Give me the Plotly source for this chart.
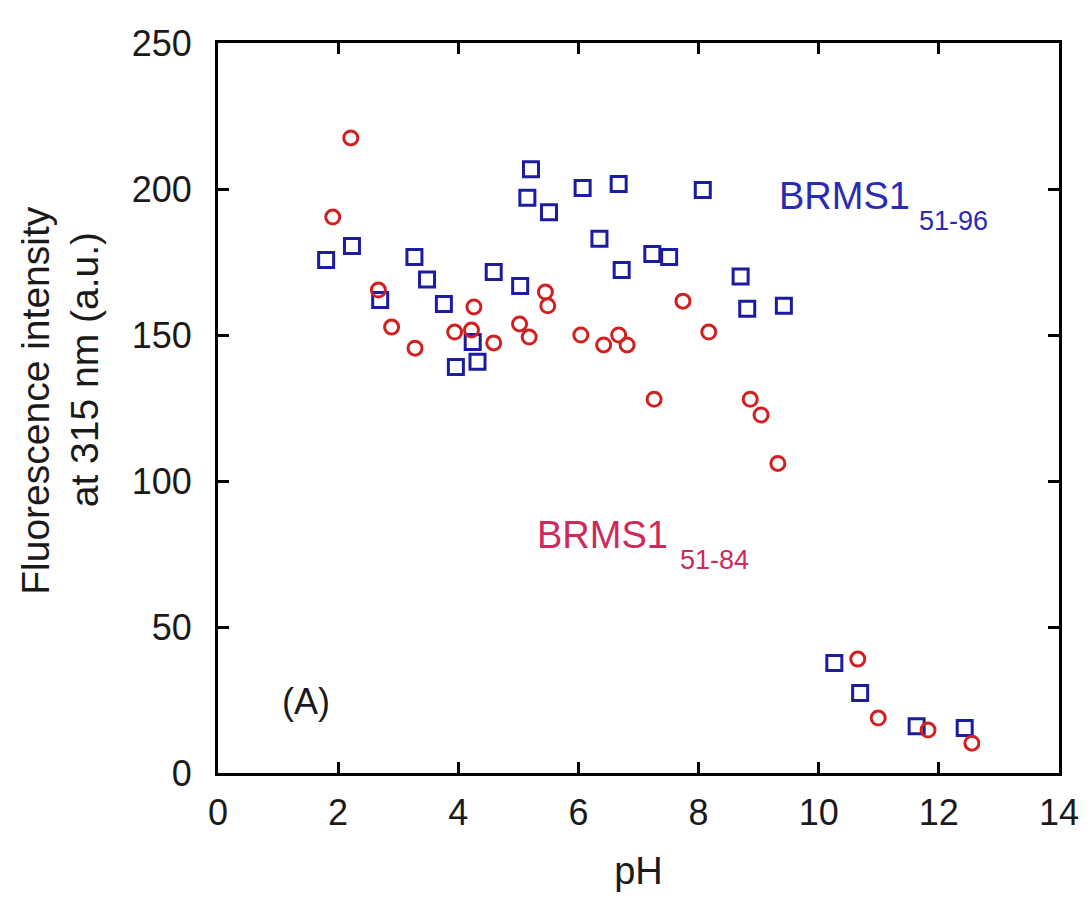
import plotly.graph_objects as go

# BRMS1 51-98 (blue squares)
ph_9698 = [1.80, 2.23, 2.70, 3.27, 3.48, 3.76, 3.96, 4.24, 4.32, 4.59, 5.03, 5.21,
           5.15, 5.51, 6.07, 6.35, 6.67, 6.72, 7.23, 7.51, 8.07, 8.70, 8.81, 9.42,
           10.26, 10.69, 11.63, 12.43]
fl_9698 = [175.7, 180.5, 162.0, 176.7, 169.0, 160.6, 139.0, 147.6, 140.8, 171.6, 166.8, 206.8,
           197.0, 192.0, 200.3, 183.0, 201.7, 172.3, 177.7, 176.7, 199.7, 170.0, 159.0, 160.0,
           37.7, 27.4, 16.0, 15.4]

# BRMS1 51-84 (red circles)
ph_84 = [1.91, 2.21, 2.67, 2.89, 3.28, 3.94, 4.26, 4.22, 4.59, 5.02, 5.18, 5.45,
         5.49, 6.04, 6.42, 6.67, 6.81, 7.26, 7.74, 8.17, 8.86, 9.04, 9.32,
         10.65, 10.99, 11.82, 12.55]
fl_84 = [190.4, 217.5, 165.4, 152.7, 145.5, 151.0, 159.6, 151.7, 147.3, 153.8, 149.3, 164.7,
         160.0, 150.0, 146.6, 150.0, 146.6, 128.0, 161.6, 151.0, 128.0, 122.6, 106.0,
         39.0, 18.8, 14.7, 10.2]

x_ticks = [0, 2, 4, 6, 8, 10, 12, 14]
y_ticks = [0, 50, 100, 150, 200, 250]

BLUE = "#1c1c9e"
RED = "#d02020"
FONT = "Liberation Sans, Arial, sans-serif"
INK = "#1a1a1a"

fig = go.Figure()
fig.add_trace(go.Scatter(
    x=ph_9698, y=fl_9698, mode="markers",
    marker=dict(symbol="square-open", size=15, color=BLUE, line=dict(width=3, color=BLUE)),
    showlegend=False,
))
fig.add_trace(go.Scatter(
    x=ph_84, y=fl_84, mode="markers",
    marker=dict(symbol="circle-open", size=14, color=RED, line=dict(width=3, color=RED)),
    showlegend=False,
))

axis_common = dict(
    showline=True, linewidth=3, linecolor="black", mirror="ticks",
    ticks="inside", ticklen=11, tickwidth=2.5, tickcolor="black",
    showgrid=False, zeroline=False,
    tickfont=dict(family=FONT, size=36, color=INK),
)

fig.update_xaxes(range=[0, 14], tickvals=x_ticks, ticklabelstandoff=6,
                 title=dict(text="pH", font=dict(family=FONT, size=38, color=INK), standoff=26),
                 **axis_common)
fig.update_yaxes(range=[0, 250], tickvals=y_ticks, ticklabelstandoff=16, **axis_common)

W, H = 1091, 901
L, R, T, B = 218, 1067, 43, 773


def px_to_paper(px, py):
    return (px - L) / (R - L), (B - py) / (B - T)


ann = []
# two-line y-axis title, each line placed separately
for text, px, py in [("Fluorescence intensity", 33, 400), ("at 315 nm (a.u.)", 83, 370)]:
    xp, yp = px_to_paper(px, py)
    ann.append(dict(
        text=text, xref="paper", yref="paper", x=xp, y=yp,
        xanchor="center", yanchor="middle", textangle=-90,
        showarrow=False, font=dict(family=FONT, size=39, color=INK),
    ))

ann.append(dict(text="(A)", x=1.47, y=24.5, xref="x", yref="y", showarrow=False,
                xanchor="center", yanchor="middle",
                font=dict(family=FONT, size=36, color=INK)))

# series labels with lowered residue-range subscripts
labels = [
    ("BRMS1", "51-96", 9.30, 197.5, 11.64, 189.0, "#2a2ab4"),
    ("BRMS1", "51-84", 5.28, 81.5, 7.65, 73.0, "#d0285a"),
]
for main, sub, mx, my, sx, sy, col in labels:
    ann.append(dict(text=main, x=mx, y=my, xref="x", yref="y", showarrow=False,
                    xanchor="left", yanchor="middle",
                    font=dict(family=FONT, size=38, color=col)))
    ann.append(dict(text=sub, x=sx, y=sy, xref="x", yref="y", showarrow=False,
                    xanchor="left", yanchor="middle",
                    font=dict(family=FONT, size=27, color=col)))

fig.update_layout(
    width=W, height=H,
    margin=dict(l=L, r=W - R, t=T, b=H - B),
    paper_bgcolor="white", plot_bgcolor="white",
    annotations=ann,
)

fig.write_html("out.html")
